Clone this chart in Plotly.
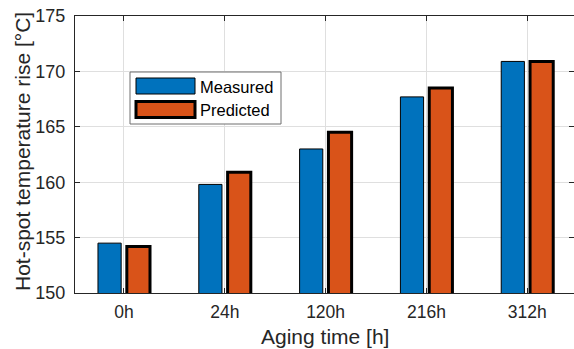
import plotly.graph_objects as go

# Aging-test results: hot-spot temperature rise per aging stage
aging_times = ["0h", "24h", "120h", "216h", "312h"]
measured = [154.5, 159.8, 163.0, 167.7, 170.9]
predicted = [154.2, 160.9, 164.5, 168.5, 170.9]
y_ticks = [150, 155, 160, 165, 170, 175]

BLUE = "#0072BD"
ORANGE = "#D95319"
AXIS = "#262626"
GRID = "#dfdfdf"
FONT = "Arial, Liberation Sans, Helvetica, sans-serif"

W, H = 574, 349
ML, MR, MT, MB = 75, 0, 16, 56
PW, PH = W - ML - MR, H - MT - MB

bar_w = 0.23
half_gap = 0.143

fig = go.Figure()
fig.add_trace(go.Bar(
    x=aging_times, y=measured, name="Measured",
    width=bar_w, offset=-half_gap - bar_w / 2,
    marker=dict(color=BLUE, line=dict(color="black", width=1)),
    showlegend=False,
))
fig.add_trace(go.Bar(
    x=aging_times, y=predicted, name="Predicted",
    width=bar_w, offset=half_gap - bar_w / 2,
    marker=dict(color=ORANGE, line=dict(color="black", width=3)),
    showlegend=False,
))
# invisible helper so the right-hand tick axis is drawn
fig.add_trace(go.Scatter(x=[aging_times[0]], y=[y_ticks[0]], yaxis="y2",
                         mode="markers", marker=dict(opacity=0),
                         showlegend=False, hoverinfo="skip"))


def px_x(px):
    return (px - ML) / PW


def px_y(py):
    return (MT + PH - py) / PH


shapes = []
annotations = []

# legend box
shapes.append(dict(type="rect", xref="paper", yref="paper",
                   x0=px_x(130), x1=px_x(281), y0=px_y(124), y1=px_y(72),
                   fillcolor="white", line=dict(color="#6e6e6e", width=1), layer="above"))
legend_items = [("Measured", BLUE, 1, 78, 94, 87), ("Predicted", ORANGE, 3, 101.5, 117.5, 110)]
for label, color, lw, top, bot, mid in legend_items:
    shapes.append(dict(type="rect", xref="paper", yref="paper",
                       x0=px_x(136), x1=px_x(195), y0=px_y(bot), y1=px_y(top),
                       fillcolor=color, line=dict(color="black", width=lw), layer="above"))
    annotations.append(dict(text=label, xref="paper", yref="paper",
                            x=px_x(198), y=px_y(mid), xanchor="left", yanchor="middle",
                            showarrow=False, font=dict(family=FONT, size=16.5, color="black")))

# axis titles
annotations.append(dict(text="Aging time [h]", xref="paper", yref="paper",
                        x=px_x(325), y=px_y(336), xanchor="center", yanchor="middle",
                        showarrow=False, font=dict(family=FONT, size=21, color=AXIS)))
annotations.append(dict(text="Hot-spot temperature rise [°C]", xref="paper", yref="paper",
                        x=px_x(22), y=px_y(152), xanchor="center", yanchor="middle",
                        textangle=-90, showarrow=False,
                        font=dict(family=FONT, size=21, color=AXIS)))

fig.update_layout(
    width=W, height=H,
    margin=dict(l=ML, r=MR, t=MT, b=MB),
    paper_bgcolor="white", plot_bgcolor="white",
    barmode="overlay",
    font=dict(family=FONT, size=18, color=AXIS),
    xaxis=dict(
        type="category", range=[-0.486, 4.464],
        showgrid=True, gridcolor=GRID, gridwidth=1,
        showline=True, linecolor=AXIS, linewidth=1, mirror="ticks",
        ticks="inside", ticklen=5, tickcolor=AXIS,
        tickfont=dict(family=FONT, size=17.5, color=AXIS),
        ticklabelstandoff=3,
        zeroline=False,
    ),
    yaxis=dict(
        range=[150, 175], tickvals=y_ticks,
        showgrid=True, gridcolor=GRID, gridwidth=1,
        showline=True, linecolor=AXIS, linewidth=1,
        ticks="inside", ticklen=5, tickcolor=AXIS,
        tickfont=dict(family=FONT, size=18, color=AXIS),
        ticklabelstandoff=5,
        zeroline=False,
    ),
    yaxis2=dict(
        overlaying="y", side="right", range=[150, 175], tickvals=y_ticks,
        showgrid=False, showline=False, showticklabels=False,
        ticks="inside", ticklen=5, tickcolor=AXIS, zeroline=False,
    ),
    shapes=shapes,
    annotations=annotations,
)

fig.write_html("out.html")
